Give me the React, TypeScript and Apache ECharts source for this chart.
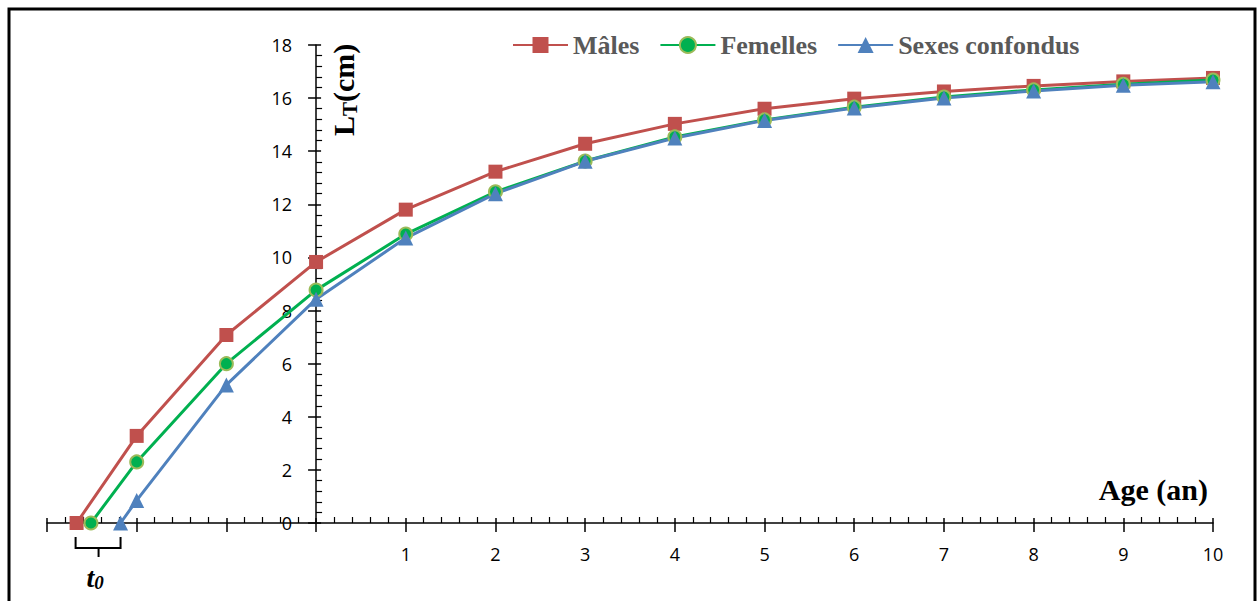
import React, { useEffect, useRef } from "react";
import * as echarts from "echarts";

// Age (years) and total length (cm)
const maleAges = [-2.67, -2, -1, 0, 1, 2, 3, 4, 5, 6, 7, 8, 9, 10];
const maleLengths = [0, 3.28, 7.08, 9.83, 11.8, 13.23, 14.28, 15.03, 15.6, 15.98, 16.25, 16.46, 16.63, 16.76];
const femaleAges = [-2.51, -2, -1, 0, 1, 2, 3, 4, 5, 6, 7, 8, 9, 10];
const femaleLengths = [0, 2.3, 6.0, 8.77, 10.88, 12.47, 13.63, 14.54, 15.18, 15.66, 16.04, 16.31, 16.52, 16.68];
const pooledAges = [-2.18, -2, -1, 0, 1, 2, 3, 4, 5, 6, 7, 8, 9, 10];
const pooledLengths = [0, 0.85, 5.2, 8.43, 10.73, 12.4, 13.62, 14.5, 15.16, 15.63, 16.0, 16.27, 16.48, 16.62];

const seriesNames = ["Mâles", "Femelles", "Sexes confondus"];
const xMin = -3;
const xMax = 10;
const yMin = 0;
const yMax = 18;

const SERIF = "'Liberation Serif', 'Times New Roman', serif";
const SANS = "'Open Sans', 'Liberation Sans', sans-serif";

const W = 1257;
const H = 601;
const GRID = { left: 47, right: 44, top: 45, bottom: 78 };

function pairs(xs: number[], ys: number[]) {
  return xs.map((x, i) => [x, ys[i]]);
}

export default function App() {
  const ref = useRef<HTMLDivElement>(null);
  useEffect(() => {
    document.body.style.margin = "0";
    const chart = echarts.init(ref.current!, null, { renderer: "svg" });
    const axisColor = "#000";
    const gridWidth = W - GRID.left - GRID.right;
    // place the y axis at x = 0 on the value scale
    const yOffset = -((0 - xMin) / (xMax - xMin)) * gridWidth;
    chart.setOption({
      animation: false,
      backgroundColor: "#fff",
      legend: {
        data: seriesNames,
        left: 512,
        top: 32,
        padding: 0,
        itemWidth: 55,
        itemHeight: 20,
        itemGap: 20,
        textStyle: { fontFamily: SERIF, fontWeight: "bold", fontSize: 26, color: "#595959" },
      },
      grid: { ...GRID, containLabel: false },
      xAxis: [
        {
          type: "value",
          min: xMin,
          max: xMax,
          interval: 1,
          position: "bottom",
          axisLine: { onZero: false, lineStyle: { color: axisColor, width: 1.5 } },
          axisTick: { show: true, inside: false, length: 9, lineStyle: { color: axisColor, width: 1.5 } },
          minorTick: { show: true, splitNumber: 5, length: -6, lineStyle: { color: axisColor, width: 1.2 } },
          splitLine: { show: false },
          axisLabel: {
            margin: 22,
            fontFamily: SANS,
            fontSize: 18,
            color: "#000",
            formatter: (v: number) => (v >= 1 ? String(v) : ""),
          },
        },
        {
          type: "value",
          min: xMin,
          max: xMax,
          interval: 1,
          position: "bottom",
          axisLine: { show: false, onZero: false },
          axisTick: { show: true, inside: true, length: 5, lineStyle: { color: axisColor, width: 1.5 } },
          splitLine: { show: false },
          axisLabel: { show: false },
        },
      ],
      yAxis: [
        {
          type: "value",
          min: yMin,
          max: yMax,
          interval: 2,
          position: "left",
          offset: yOffset,
          axisLine: { show: true, onZero: false, lineStyle: { color: axisColor, width: 1.5 } },
          axisTick: { show: true, inside: false, length: 8, lineStyle: { color: axisColor, width: 1.5 } },
          minorTick: { show: true, splitNumber: 5, length: -6, lineStyle: { color: axisColor, width: 1.2 } },
          splitLine: { show: false },
          axisLabel: { margin: 24, fontFamily: SANS, fontSize: 18, color: "#000" },
        },
        {
          type: "value",
          min: yMin,
          max: yMax,
          interval: 2,
          position: "left",
          offset: yOffset,
          axisLine: { show: false, onZero: false },
          axisTick: { show: true, inside: true, length: 5, lineStyle: { color: axisColor, width: 1.5 } },
          splitLine: { show: false },
          axisLabel: { show: false },
        },
      ],
      series: [
        {
          name: seriesNames[0],
          type: "line",
          data: pairs(maleAges, maleLengths),
          symbol: "rect",
          symbolSize: 14,
          color: "#C0504D",
          lineStyle: { color: "#C0504D", width: 3 },
          itemStyle: { color: "#C0504D" },
        },
        {
          name: seriesNames[1],
          type: "line",
          data: pairs(femaleAges, femaleLengths),
          symbol: "circle",
          symbolSize: 13,
          color: "#00B050",
          lineStyle: { color: "#00B050", width: 3 },
          itemStyle: { color: "#00B050", borderColor: "#9BBB59", borderWidth: 2 },
        },
        {
          name: seriesNames[2],
          type: "line",
          data: pairs(pooledAges, pooledLengths),
          symbol: "triangle",
          symbolSize: 15,
          color: "#4F81BD",
          lineStyle: { color: "#4F81BD", width: 3 },
          itemStyle: { color: "#4F81BD" },
        },
      ],
    });

    const p = (x: number, y: number) =>
      chart.convertToPixel({ xAxisIndex: 0, yAxisIndex: 0 }, [x, y]) as number[];
    const origin = p(0, 0);
    const top = p(0, yMax);
    const right = p(xMax, 0);
    const t0Left = p(maleAges[0], 0);
    const t0Right = p(pooledAges[0], 0);
    const by = origin[1] + 14;
    const bBottom = by + 11;
    const bMid = (t0Left[0] + t0Right[0]) / 2;

    chart.setOption({
      graphic: [
        {
          type: "rect",
          shape: { x: 9, y: 9, width: 1246, height: 620 },
          style: { fill: "none", stroke: "#000", lineWidth: 3 },
          silent: true,
        },
        {
          type: "text",
          x: origin[0] + 27,
          y: top[1] + 91,
          rotation: Math.PI / 2,
          style: {
            text: "{b|L}{s|T}{b|(cm)}",
            align: "left",
            verticalAlign: "middle",
            rich: {
              b: { fontFamily: SERIF, fontWeight: "bold", fontSize: 30, fill: "#000", lineHeight: 32 },
              s: { fontFamily: SERIF, fontWeight: "bold", fontSize: 21, fill: "#000", lineHeight: 32, padding: [14, 0, 0, 0] },
            },
          },
        },
        {
          type: "text",
          x: right[0] - 5,
          y: origin[1] - 34,
          style: {
            text: "Age (an)",
            align: "right",
            verticalAlign: "middle",
            fontFamily: SERIF,
            fontWeight: "bold",
            fontSize: 30,
            fill: "#000",
          },
        },
        {
          type: "polyline",
          shape: {
            points: [
              [t0Left[0] - 1, by],
              [t0Left[0] - 1, bBottom],
              [t0Right[0], bBottom],
              [t0Right[0], by],
            ],
          },
          style: { stroke: "#000", lineWidth: 2, fill: "none" },
        },
        {
          type: "line",
          shape: { x1: bMid, y1: bBottom, x2: bMid, y2: bBottom + 9 },
          style: { stroke: "#000", lineWidth: 2 },
        },
        {
          type: "text",
          x: bMid - 12,
          y: origin[1] + 54,
          style: {
            text: "{t|t}{z|0}",
            align: "left",
            verticalAlign: "middle",
            rich: {
              t: { fontFamily: SERIF, fontWeight: "bold", fontStyle: "italic", fontSize: 28, fill: "#000", lineHeight: 30 },
              z: { fontFamily: SERIF, fontWeight: "bold", fontStyle: "italic", fontSize: 19, fill: "#000", lineHeight: 30, padding: [10, 0, 0, 0] },
            },
          },
        },
      ],
    });

    return () => chart.dispose();
  }, []);
  return <div ref={ref} style={{ width: W, height: H }} />;
}
